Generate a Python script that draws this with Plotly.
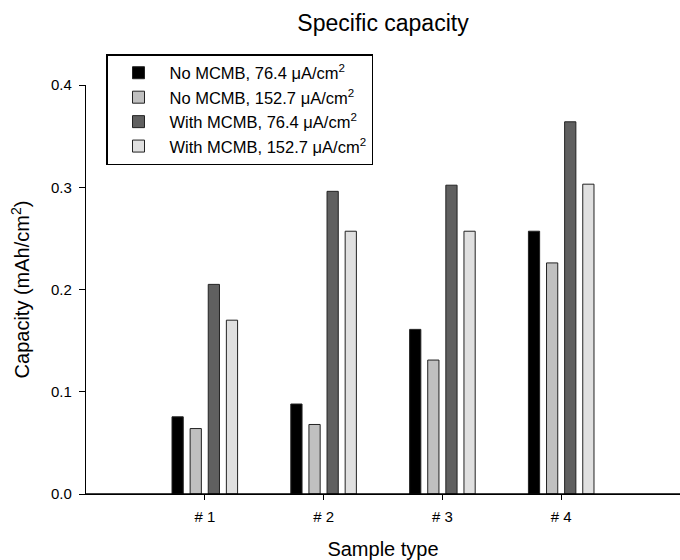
import plotly.graph_objects as go

categories = ["# 1", "# 2", "# 3", "# 4"]
series_names = [
    "No MCMB, 76.4 μA/cm<sup>2</sup>",
    "No MCMB, 152.7 μA/cm<sup>2</sup>",
    "With MCMB, 76.4 μA/cm<sup>2</sup>",
    "With MCMB, 152.7 μA/cm<sup>2</sup>",
]
no_mcmb_76 = [0.0755, 0.088, 0.161, 0.257]
no_mcmb_153 = [0.064, 0.068, 0.131, 0.226]
with_mcmb_76 = [0.205, 0.296, 0.302, 0.364]
with_mcmb_153 = [0.170, 0.257, 0.257, 0.303]
series_values = [no_mcmb_76, no_mcmb_153, with_mcmb_76, with_mcmb_153]
series_colors = ["#000000", "#c0c0c0", "#606060", "#e0e0e0"]
y_ticks = [0.0, 0.1, 0.2, 0.3, 0.4]

FONT = "Liberation Sans, Arial, sans-serif"

fig = go.Figure()
for name, vals, col in zip(series_names, series_values, series_colors):
    fig.add_trace(go.Bar(
        x=categories, y=vals, name=name,
        marker=dict(color=col, line=dict(color="#222222", width=1)),
    ))

fig.update_layout(
    width=680, height=560,
    margin=dict(l=86, r=0, t=85, b=66),
    paper_bgcolor="white", plot_bgcolor="white",
    font=dict(family=FONT, color="black", size=15),
    barmode="group", bargap=0.39, bargroupgap=0.38,
    title=dict(text="Specific capacity", x=(86 + 680) / 2 / 680, xanchor="center",
               y=1 - 23 / 560, yanchor="middle", yref="container",
               font=dict(size=23, family=FONT, color="black")),
    showlegend=True,
    legend=dict(
        x=(106 - 86) / 594, y=(494 - 54) / 409, xanchor="left", yanchor="top",
        bordercolor="black", borderwidth=1.5, bgcolor="white",
        font=dict(size=16.5, family=FONT, color="black"),
        tracegroupgap=0, itemwidth=52,
    ),
    xaxis=dict(
        type="category", range=[-1, 4],
        showline=True, linecolor="black", linewidth=1.3,
        ticks="outside", ticklen=5, tickcolor="black", tickwidth=1.3,
        showgrid=False, zeroline=False,
        tickfont=dict(size=15), ticklabelstandoff=4,
        title=dict(text="Sample type", font=dict(size=20), standoff=21),
    ),
    yaxis=dict(
        range=[0, 0.4], tickvals=y_ticks, tickformat=".1f",
        showline=True, linecolor="black", linewidth=1.3,
        ticks="outside", ticklen=6, tickcolor="black", tickwidth=1.3,
        showgrid=False, zeroline=False,
        tickfont=dict(size=15), ticklabelstandoff=4,
        title=dict(text="Capacity (mAh/cm<sup>2</sup>)", font=dict(size=20), standoff=15),
    ),
    shapes=[dict(type="line", xref="paper", yref="paper", x0=0, x1=1, y0=0, y1=0,
                 line=dict(color="black", width=1.3), layer="above")],
)

fig.write_html(
    "out.html",
    config={"displayModeBar": False},
    post_script="document.body.style.margin='0';document.body.style.overflow='hidden';",
)
